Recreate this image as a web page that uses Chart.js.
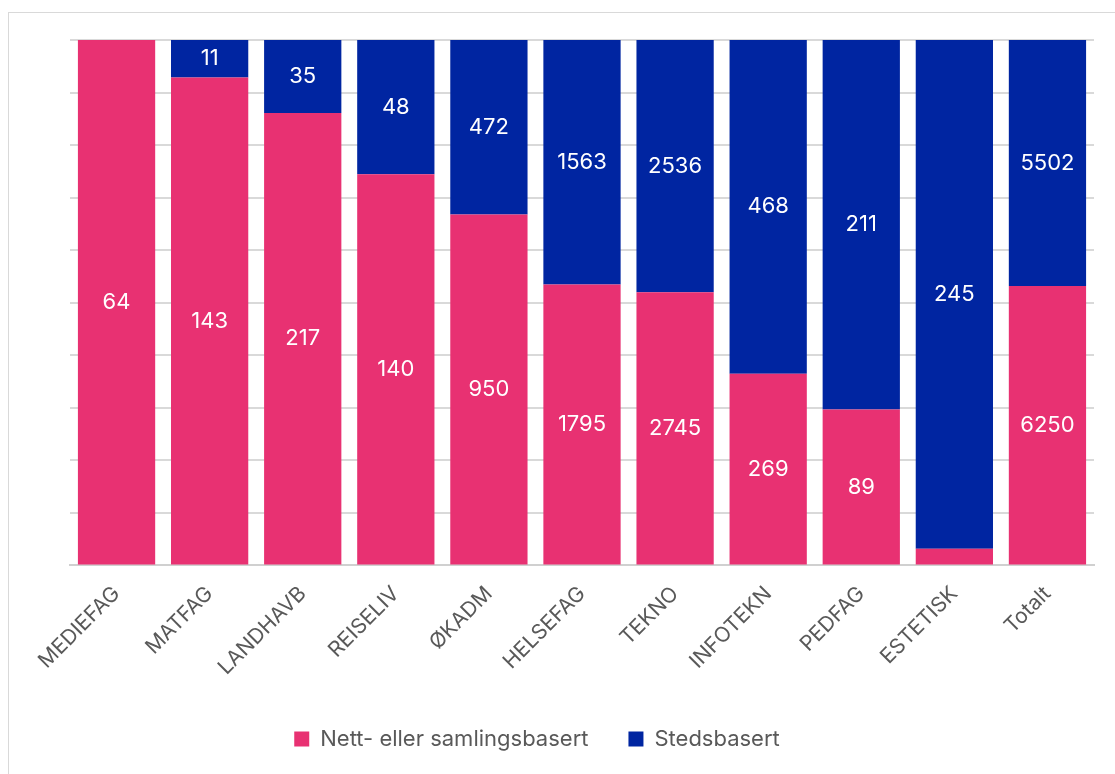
<!DOCTYPE html>
<html>
<head>
<meta charset="utf-8">
<script src="https://cdn.jsdelivr.net/npm/chart.js@4/dist/chart.umd.min.js"></script>
<style>
  html, body { margin: 0; padding: 0; background: #fff; overflow: hidden; }
  .frame {
    position: absolute; left: 8px; top: 12px;
    width: 1127px; height: 780px;
    border: 1px solid #d9d9d9; box-sizing: border-box;
  }
  .frame canvas { display: block; }
</style>
</head>
<body>
<div class="frame"><canvas id="chart"></canvas></div>
<script>
const categories = ['MEDIEFAG', 'MATFAG', 'LANDHAVB', 'REISELIV', 'ØKADM', 'HELSEFAG', 'TEKNO', 'INFOTEKN', 'PEDFAG', 'ESTETISK', 'Totalt'];
const nettCounts = [64, 143, 217, 140, 950, 1795, 2745, 269, 89, 8, 6250];
const stedCounts = [0, 11, 35, 48, 472, 1563, 2536, 468, 211, 245, 5502];
const seriesNames = ['Nett- eller samlingsbasert', 'Stedsbasert'];
const PINK = '#e83172';
const BLUE = '#0025a1';
const FONT = 'Inter, "Noto Sans", sans-serif';

// share of each category, so every bar reaches 100
const totals = categories.map((_, i) => nettCounts[i] + stedCounts[i]);
const nettShare = nettCounts.map((v, i) => v / totals[i] * 100);
const stedShare = stedCounts.map((v, i) => v / totals[i] * 100);

// white count labels centered in each segment, skip the tiny ones
const countLabels = {
  id: 'countLabels',
  afterDatasetsDraw(chart) {
    const ctx = chart.ctx;
    ctx.save();
    ctx.fillStyle = '#fff';
    ctx.font = '22px ' + FONT;
    ctx.textAlign = 'center';
    ctx.textBaseline = 'middle';
    chart.data.datasets.forEach((ds, di) => {
      const meta = chart.getDatasetMeta(di);
      meta.data.forEach((bar, i) => {
        if (ds.data[i] < 5) return;
        ctx.fillText(String(ds.counts[i]), bar.x, (bar.y + bar.base) / 2);
      });
    });
    ctx.restore();
  }
};

// the original legend sits a bit left of the plot centre
const legendShift = {
  id: 'legendShift',
  afterLayout(chart) {
    const l = chart.legend;
    if (!l) return;
    l.left -= 45;
    l.right -= 45;
  }
};

new Chart(document.getElementById('chart'), {
  type: 'bar',
  data: {
    labels: categories,
    datasets: [
      { label: seriesNames[0], data: nettShare, counts: nettCounts, backgroundColor: PINK, borderWidth: 0 },
      { label: seriesNames[1], data: stedShare, counts: stedCounts, backgroundColor: BLUE, borderWidth: 0 },
    ],
  },
  options: {
    responsive: true,
    maintainAspectRatio: false,
    animation: false,
    barPercentage: 0.83,
    categoryPercentage: 1,
    layout: { padding: { left: 61, right: 40, top: 27, bottom: 31 } },
    plugins: {
      tooltip: { enabled: false },
      legend: {
        position: 'bottom',
        labels: {
          color: '#595959',
          font: { family: FONT, size: 22 },
          boxWidth: 15,
          boxHeight: 15,
          padding: 40,
        },
      },
    },
    scales: {
      x: {
        stacked: true,
        grid: { display: false },
        border: { color: '#d0d0d0', width: 2 },
        ticks: {
          color: '#595959',
          font: { family: FONT, size: 21 },
          maxRotation: 45,
          minRotation: 45,
          padding: 8,
        },
      },
      y: {
        stacked: true,
        min: 0,
        max: 100,
        border: { display: false },
        grid: { color: '#d9d9d9', lineWidth: 2, drawTicks: false },
        ticks: { display: false, stepSize: 10 },
      },
    },
  },
  plugins: [countLabels, legendShift],
});
</script>
</body>
</html>
